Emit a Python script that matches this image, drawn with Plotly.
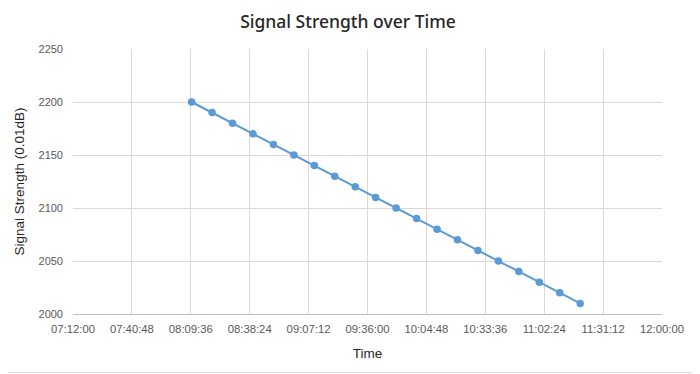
import plotly.graph_objects as go

times = ["08:10:00", "08:20:00", "08:30:00", "08:40:00", "08:50:00", "09:00:00", "09:10:00",
         "09:20:00", "09:30:00", "09:40:00", "09:50:00", "10:00:00", "10:10:00", "10:20:00",
         "10:30:00", "10:40:00", "10:50:00", "11:00:00", "11:10:00", "11:20:00"]
signal = [2200, 2190, 2180, 2170, 2160, 2150, 2140, 2130, 2120, 2110,
          2100, 2090, 2080, 2070, 2060, 2050, 2040, 2030, 2020, 2010]

day = "2024-01-01 "
x = [day + t for t in times]

fig = go.Figure()
fig.add_trace(go.Scatter(
    x=x, y=signal, mode="lines+markers",
    line=dict(color="#5B9BD5", width=2),
    marker=dict(color="#5B9BD5", size=7.5),
    showlegend=False,
))

W, H = 700, 374
# page body has an 8px offset; margins compensate
L, R, T, B = 65, 46, 41, 68
pw, ph = W - L - R, H - T - B

fig.update_layout(
    width=W, height=H,
    margin=dict(l=L, r=R, t=T, b=B),
    paper_bgcolor="white", plot_bgcolor="white",
    title=dict(text="Signal Strength over Time", x=(348 - 8) / W, xanchor="center",
               y=1 - 14 / H, yanchor="middle",
               font=dict(family="Noto Sans", size=17.5, color="#262626", weight=500)),
    xaxis=dict(
        type="date",
        range=[day + "07:12:00", day + "12:00:00"],
        tick0=day + "07:12:00", dtick=1728000,
        tickformat="%H:%M:%S",
        showgrid=True, gridcolor="#D9D9D9", gridwidth=1,
        showline=True, linecolor="#BFBFBF", linewidth=1,
        ticks="", ticklabelstandoff=4,
        tickfont=dict(family="Liberation Sans", size=11.3, color="#595959"),
        title=dict(text="Time", font=dict(family="Liberation Sans", size=13.5, color="#262626"), standoff=14),
        zeroline=False,
    ),
    yaxis=dict(
        range=[2000, 2250], dtick=50,
        showgrid=True, gridcolor="#D9D9D9", gridwidth=1,
        showline=False, ticks="", ticklabelstandoff=9,
        tickfont=dict(family="Liberation Sans", size=11, color="#595959"),
        title=dict(text="Signal Strength (0.01dB)", font=dict(family="Liberation Sans", size=13.5, color="#262626"), standoff=10),
        zeroline=False,
    ),
)

# outer chart border (screen 1..698 x 1..372)
fig.add_shape(type="rect", xref="paper", yref="paper",
              x0=(-7 - L) / pw, x1=(689.5 - L) / pw,
              y0=((H - 364.5) - B) / ph, y1=((H + 7) - B) / ph,
              line=dict(color="#D9D9D9", width=1), fillcolor="rgba(0,0,0,0)", layer="above")

fig.write_html("out.html")
